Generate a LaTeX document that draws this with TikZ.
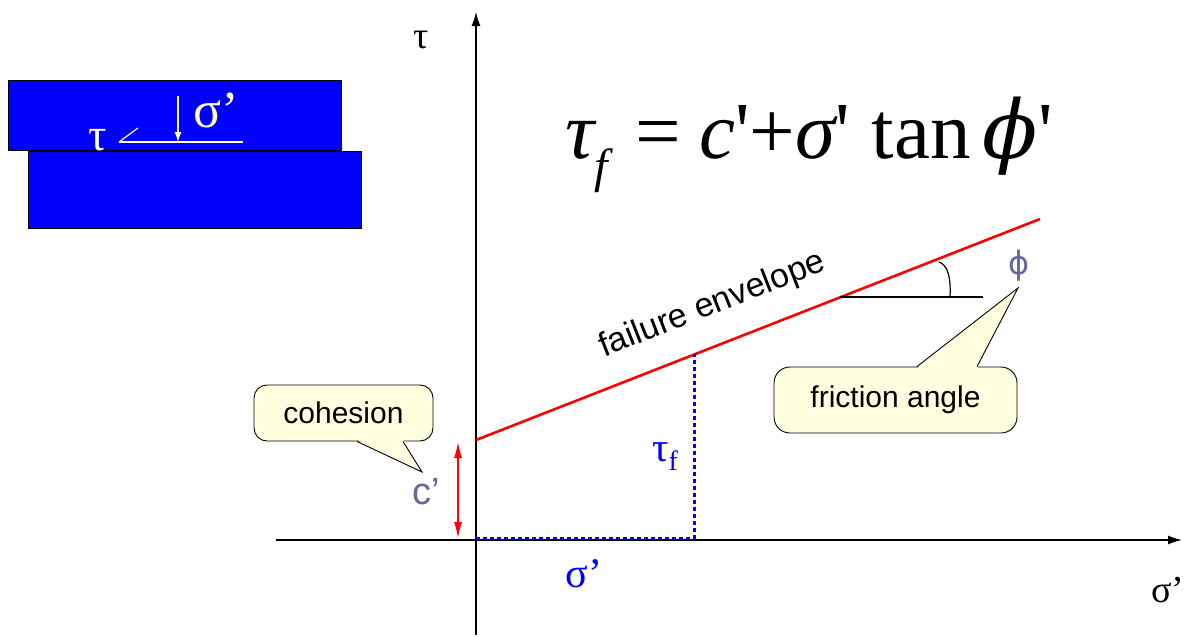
\documentclass[tikz,border=0pt]{standalone}
\usepackage{fontspec}
\setmainfont{Liberation Serif}
\newfontfamily\arialfont{Liberation Sans}
\newfontfamily\symfont{DejaVu Sans}
\newfontfamily\dvserif{DejaVu Serif}
\usetikzlibrary{arrows.meta, calc}
\definecolor{slate}{HTML}{6666A0}
\definecolor{noteyellow}{HTML}{FFFFE0}
\definecolor{chalk}{HTML}{FFFFCC}
\newcommand{\px}[1]{\fontsize{#1pt}{#1pt}\selectfont}
\newcommand{\sq}{\upshape\textquotesingle}

\begin{document}
\begin{tikzpicture}[
			x=1pt, y=-1pt,
			block/.style={rectangle, draw=black, fill=blue, line width=1pt,
				anchor=north west, inner sep=0pt, minimum width=333pt},
			note/.style={rectangle, draw=black, fill=noteyellow, line width=0.9pt,
				rounded corners=13pt, inner sep=0pt, font=\arialfont\px{30}},
			lbl/.style={inner sep=0pt},
			axis/.style={line width=1.3pt, -{Latex[length=14pt, width=9pt]}},
			>={Latex[length=16pt, width=8pt]}
			]
			\useasboundingbox (0,0) rectangle (1192,637);
			
			% sliding blocks
			\node[block, minimum height=77pt] (lower) at (28,151) {};
			\node[block, minimum height=70pt] (upper) at (8,80) {};
			\coordinate (slipL) at (119,142);
			\coordinate (slipR) at (243,142);
			\coordinate (shearend) at (138,128);
			\coordinate (loadtop) at (178,96);
			\coordinate (loadpt) at (178,142);
			\draw[chalk, line width=1.2pt] (slipL) -- (slipR);
			\draw[chalk, line width=1.2pt] (slipL) -- (shearend);
			\draw[chalk, line width=1.2pt, -{Latex[length=10pt, width=7pt]}] (loadtop) -- (loadpt);
			\node[lbl, text=white, font=\px{46}] (blocktau) at (98,140) {τ};
			\node[lbl, text=chalk, font=\px{52}] (blocksig) at (216,110) {σ’};
			
			% axes
			\coordinate (yaxbot) at (476,635);
			\coordinate (yaxtop) at (476,12);
			\coordinate (xaxL) at (276,540);
			\coordinate (xaxR) at (1182,540);
			\draw[axis] (yaxbot) -- (yaxtop);
			\draw[axis] (xaxL) -- (xaxR);
			\node[lbl, font=\px{38}] (taulbl) at (421,40) {τ};
			\node[lbl, font=\px{38}] (siglbl) at (1168,590) {σ’};
			
			\node[anchor=base west, inner sep=0pt, font=\px{81}] (law) at (565,158)
			{\itshape τ\raisebox{-0.3em}{\px{48}f}\hspace*{28pt}\upshape=\hspace*{18pt}\itshape c\sq+\itshape σ\sq\hspace*{22pt}\upshape tan\hspace*{12pt}{\dvserif\itshape ϕ}\sq};
			
			% failure envelope
			\coordinate (cint) at (476,440);
			\coordinate (envend) at (1040,219);
			\draw[red, line width=2.6pt] (cint) -- node[pos=0.445, above=22pt, sloped, inner sep=0pt,
				text=black, font=\arialfont\px{34}] (envlbl) {failure envelope} (envend);
			
			% cohesion
			\coordinate (cbot) at (458,538);
			\coordinate (ctop) at (458,442);
			\draw[red, line width=1.3pt, <->] (ctop) -- (cbot);
			\node[lbl, text=slate, font=\arialfont\px{38}] (clbl) at (426,492) {c’};
			
			% stresses at failure
			\coordinate (orig) at (476,538);
			\coordinate (sigpt) at (694,538);
			\coordinate (taupt) at (694,354);
			\draw[blue, line width=3pt, dash pattern=on 4pt off 3pt] (orig) -- (sigpt) -- (taupt);
			\node[lbl, text=blue, font=\px{41}] (tauf) at (665,457) {τ\raisebox{-9pt}{\px{28}f}};
			\node[lbl, text=blue, font=\px{42}] (sigf) at (584,574) {σ’};
			
			% friction angle
			\coordinate (phibase) at (840,297);
			\coordinate (phiend) at (983,297);
			\coordinate (arcA) at (950,297);
			\coordinate (arcB) at (939,262);
			\draw[line width=1.2pt] (phibase) -- (phiend);
			\draw[line width=1.2pt] (arcA) .. controls (951,278) and (948,265) .. (arcB);
			\node[lbl, text=slate, font=\symfont\px{32}] (philbl) at (1019,266) {ϕ};
			
			% callouts
			\node[note, minimum width=179pt, minimum height=56pt] (coh) at (343.5,413) {cohesion};
			\coordinate (cohtip) at (422,472);
			\fill[noteyellow] ($(coh.south)+(13.5,-2)$) -- (cohtip) -- ($(coh.south)+(59.5,-2)$) -- cycle;
			\draw[line width=0.9pt] ($(coh.south)+(13.5,0)$) -- (cohtip) -- ($(coh.south)+(59.5,0)$);
			
			\node[note, minimum width=243pt, minimum height=66pt, rounded corners=16pt] (fric) at (895.5,400) {friction angle};
			\coordinate (frictip) at (1018,288);
			\fill[noteyellow] ($(fric.north)+(21.5,2)$) -- (frictip) -- ($(fric.north)+(81.5,2)$) -- cycle;
			\draw[line width=0.9pt] ($(fric.north)+(21.5,0)$) -- (frictip) -- ($(fric.north)+(81.5,0)$);
		\end{tikzpicture}
\end{document}
